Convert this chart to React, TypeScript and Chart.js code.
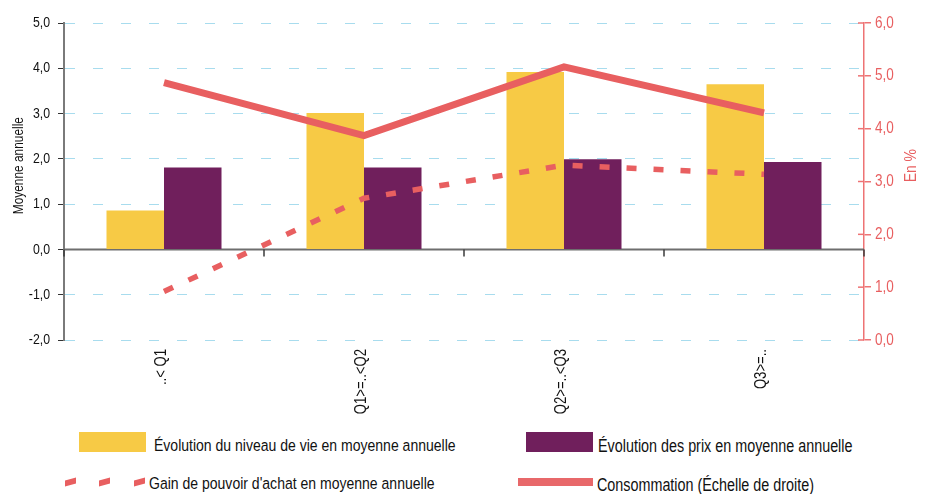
import React, { useEffect, useRef } from 'react';
import { Chart, registerables } from 'chart.js';

Chart.register(...registerables);

// ---- data ----
const categories = ['..< Q1', 'Q1>=..<Q2', 'Q2>=..<Q3', 'Q3>=..'];
const niveauDeVie = [0.86, 3.01, 3.92, 3.65];
const prix = [1.81, 1.81, 1.99, 1.93];
const gainPouvoirAchat = [-0.93, 1.13, 1.86, 1.66];
const consommation = [4.87, 3.87, 5.17, 4.3];
const leftAxisRange = [-2, 5];
const rightAxisRange = [0, 6];

const seriesNames = [
  'Évolution du niveau de vie en moyenne annuelle',
  'Évolution des prix en moyenne annuelle',
  "Gain de pouvoir d'achat en moyenne annuelle",
  'Consommation (Échelle de droite)',
];
const leftTitle = 'Moyenne annuelle';
const rightTitle = 'En %';

const YELLOW = '#f7ca45';
const PURPLE = '#701f5c';
const RED = '#e85f60';
const AXIS_RED = '#ee7374';
const GRID_BLUE = '#a8dcee';
const FONT = "'Liberation Sans', Arial, sans-serif";
const NARROW = 0.82;

const fmt = (v: number) => v.toFixed(1).replace('.', ',');

function narrowText(
  ctx: CanvasRenderingContext2D,
  text: string,
  x: number,
  y: number,
  opts: { size: number; color: string; align: CanvasTextAlign; rotate?: boolean }
) {
  ctx.save();
  ctx.font = `${opts.size}px ${FONT}`;
  ctx.fillStyle = opts.color;
  ctx.textAlign = opts.align;
  ctx.textBaseline = 'middle';
  ctx.translate(x, y);
  if (opts.rotate) ctx.rotate(-Math.PI / 2);
  ctx.scale(NARROW, 1);
  ctx.fillText(text, 0, 0);
  ctx.restore();
}

const decorPlugin = {
  id: 'decor',
  beforeDatasetsDraw(chart: any) {
    const { ctx, chartArea, scales } = chart;
    const y0 = scales.y.getPixelForValue(0);
    ctx.save();
    ctx.strokeStyle = '#6e6e6e';
    ctx.lineWidth = 2;
    ctx.beginPath();
    ctx.moveTo(chartArea.left, y0);
    ctx.lineTo(chartArea.right, y0);
    ctx.stroke();
    ctx.strokeStyle = '#3a3a3a';
    ctx.lineWidth = 1.5;
    for (let i = 0; i <= categories.length; i++) {
      const x = scales.x.getPixelForValue(i - 0.5);
      ctx.beginPath();
      ctx.moveTo(x, y0);
      ctx.lineTo(x, y0 + 7);
      ctx.stroke();
    }
    ctx.restore();
  },
  afterDraw(chart: any) {
    const { ctx, chartArea, scales } = chart;
    ctx.save();
    ctx.strokeStyle = AXIS_RED;
    ctx.lineWidth = 1.5;
    scales.y1.ticks.forEach((t: any) => {
      const y = scales.y1.getPixelForValue(t.value);
      ctx.beginPath();
      ctx.moveTo(chartArea.right - 6, y);
      ctx.lineTo(chartArea.right, y);
      ctx.stroke();
    });
    ctx.restore();

    scales.y.ticks.forEach((t: any) => {
      narrowText(ctx, fmt(t.value), chartArea.left - 14, scales.y.getPixelForValue(t.value), {
        size: 15,
        color: '#111',
        align: 'right',
      });
    });
    scales.y1.ticks.forEach((t: any) => {
      narrowText(ctx, fmt(t.value), chartArea.right + 11, scales.y1.getPixelForValue(t.value), {
        size: 16.5,
        color: RED,
        align: 'left',
      });
    });
    categories.forEach((c, i) => {
      narrowText(ctx, c, scales.x.getPixelForValue(i) - 2, chartArea.bottom + 9, {
        size: 16,
        color: '#111',
        align: 'right',
        rotate: true,
      });
    });

    const midY = chartArea.top + (chartArea.bottom - chartArea.top) * 0.45;
    narrowText(ctx, leftTitle, 11, midY, { size: 14.5, color: '#111', align: 'center', rotate: true });
    narrowText(ctx, rightTitle, chartArea.right + 47, midY, { size: 17, color: RED, align: 'center', rotate: true });
  },
};

function ChartCanvas() {
  const ref = useRef<HTMLCanvasElement>(null);
  useEffect(() => {
    if (!ref.current) return;
    const chart = new Chart(ref.current, {
      type: 'bar',
      data: {
        labels: categories,
        datasets: [
          {
            type: 'line',
            label: seriesNames[2],
            data: gainPouvoirAchat,
            yAxisID: 'y',
            borderColor: RED,
            borderWidth: 5.5,
            borderDash: [10, 17],
            borderCapStyle: 'butt',
            pointRadius: 0,
            tension: 0,
            order: 0,
          } as any,
          {
            type: 'line',
            label: seriesNames[3],
            data: consommation,
            yAxisID: 'y1',
            borderColor: RED,
            borderWidth: 7,
            borderCapStyle: 'butt',
            borderJoinStyle: 'miter',
            pointRadius: 0,
            tension: 0,
            order: 0,
          } as any,
          {
            type: 'bar',
            label: seriesNames[0],
            data: niveauDeVie,
            yAxisID: 'y',
            backgroundColor: YELLOW,
            barPercentage: 1,
            categoryPercentage: 0.575,
            order: 1,
          },
          {
            type: 'bar',
            label: seriesNames[1],
            data: prix,
            yAxisID: 'y',
            backgroundColor: PURPLE,
            barPercentage: 1,
            categoryPercentage: 0.575,
            order: 1,
          },
        ],
      },
      options: {
        animation: false,
        responsive: true,
        maintainAspectRatio: false,
        layout: { padding: { top: 15, left: 0, right: 0, bottom: 0 } },
        plugins: { legend: { display: false }, tooltip: { enabled: false } },
        scales: {
          x: {
            grid: { display: false, drawTicks: false },
            border: { display: false },
            ticks: { display: false },
            afterFit: (s: any) => {
              s.height = 88;
            },
          },
          y: {
            position: 'left',
            min: leftAxisRange[0],
            max: leftAxisRange[1],
            ticks: { stepSize: 1, display: false },
            grid: {
              color: (c: any) => (c.tick && c.tick.value === 0 ? 'rgba(0,0,0,0)' : GRID_BLUE),
              lineWidth: 1,
              tickLength: 6,
              tickColor: '#333',
            },
            border: { color: '#7a7a7a', width: 2, dash: [10, 18] },
            afterFit: (s: any) => {
              s.width = 56;
            },
          },
          y1: {
            position: 'right',
            min: rightAxisRange[0],
            max: rightAxisRange[1],
            ticks: { stepSize: 1, display: false },
            grid: {
              drawOnChartArea: false,
              tickLength: 7,
              tickColor: AXIS_RED,
              lineWidth: 1.5,
            },
            border: { color: AXIS_RED, width: 1.5 },
            afterFit: (s: any) => {
              s.width = 61;
            },
          },
        },
      },
      plugins: [decorPlugin],
    });
    return () => chart.destroy();
  }, []);
  return (
    <div style={{ position: 'absolute', left: 0, top: 0, width: 917, height: 420 }}>
      <canvas ref={ref} />
    </div>
  );
}

const textStyle: React.CSSProperties = {
  position: 'absolute',
  fontFamily: FONT,
  fontSize: 17.1,
  lineHeight: '20px',
  color: '#111',
  whiteSpace: 'nowrap',
  transform: `scaleX(${NARROW})`,
  transformOrigin: 'left center',
};

const dashStyle = (left: number): React.CSSProperties => ({
  position: 'absolute',
  left,
  top: 471,
  width: 11,
  height: 6,
  background: RED,
  transform: 'skewY(-16deg)',
});

function Legend() {
  return (
    <>
      <div style={{ position: 'absolute', left: 71, top: 424, width: 67, height: 20, background: YELLOW }} />
      <div style={{ ...textStyle, left: 146, top: 428 }}>{seriesNames[0]}</div>
      <div style={{ position: 'absolute', left: 518, top: 424, width: 67, height: 20, background: PURPLE }} />
      <div style={{ ...textStyle, left: 590, top: 428, fontSize: 17.5 }}>{seriesNames[1]}</div>
      <div style={dashStyle(57)} />
      <div style={dashStyle(91)} />
      <div style={dashStyle(126)} />
      <div style={{ ...textStyle, left: 141, top: 466 }}>{seriesNames[2]}</div>
      <div style={{ position: 'absolute', left: 510, top: 470, width: 75, height: 8, background: '#e8686a' }} />
      <div style={{ ...textStyle, left: 589, top: 467, fontSize: 17.5 }}>{seriesNames[3]}</div>
    </>
  );
}

export default function App() {
  useEffect(() => {
    document.body.style.marginBottom = '0px';
  }, []);
  return (
    <div style={{ position: 'relative', width: 917, height: 486 }}>
      <ChartCanvas />
      <Legend />
    </div>
  );
}
